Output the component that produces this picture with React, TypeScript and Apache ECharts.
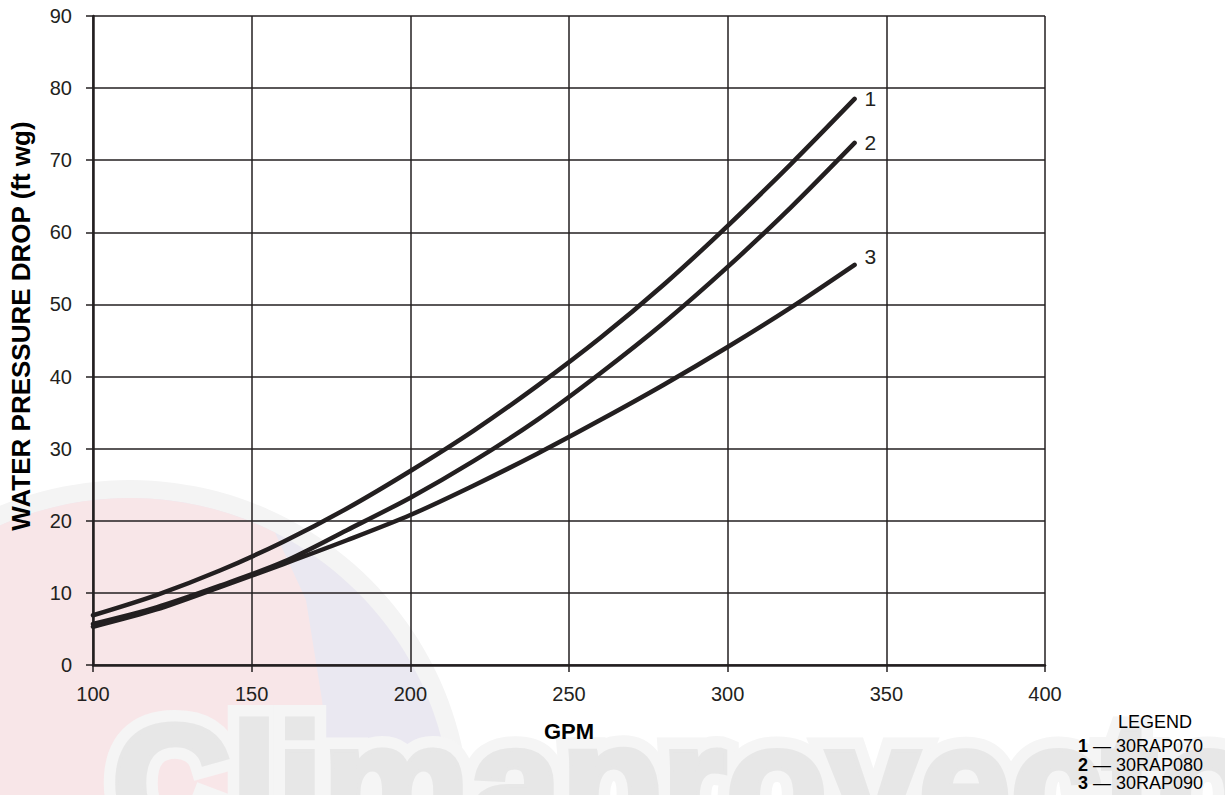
import React, { useEffect, useRef } from "react";
import * as echarts from "echarts";

const gpm = [100, 120, 140, 160, 180, 200, 220, 240, 260, 280, 300, 320, 340];
const rap070 = [6.9, 9.7, 13.1, 17.1, 21.7, 26.9, 32.5, 38.7, 45.4, 52.8, 60.9, 69.5, 78.5];
const rap080 = [5.7, 8.0, 11.0, 14.3, 18.7, 23.2, 28.3, 34.0, 40.5, 47.5, 55.2, 63.5, 72.4];
const rap090 = [5.3, 7.7, 10.8, 14.0, 17.3, 20.8, 24.9, 29.3, 34.0, 38.9, 44.1, 49.6, 55.5];
const curveNumbers = ["1", "2", "3"];
const models = ["30RAP070", "30RAP080", "30RAP090"];
const yTitle = "WATER PRESSURE DROP (ft wg)";
const xTitle = "GPM";

const INK = "#231f20";
const FONT = "Liberation Sans, Arial, sans-serif";

function pinkShape(): number[][] {
  // decorative watermark outline (not data)
  const cx = 130, cy = 820, r = 322;
  const pts: number[][] = [];
  const a0 = Math.PI; // left
  const a1 = 2 * Math.PI - Math.acos(145 / r); // right-top point where x ≈ 275
  for (let k = 0; k <= 40; k++) {
    const a = a0 + ((a1 - a0) * k) / 40;
    pts.push([cx + r * Math.cos(a), cy + r * Math.sin(a)]);
  }
  pts.push([306, 600], [322, 700], [332, 800], [-200, 800]);
  return pts;
}

export default function App() {
  const ref = useRef<HTMLDivElement>(null);
  useEffect(() => {
    if (!ref.current) return;
    const chart = echarts.init(ref.current, undefined, { renderer: "svg" });
    const mk = (vals: number[]) => gpm.map((g, i) => [g, vals[i]]);
    const seriesVals = [rap070, rap080, rap090];
    const labelOffsets = [[2, 0], [2, 0], [2, -8]];
    const series = seriesVals.map((vals, i) => ({
      type: "line",
      name: models[i],
      data: mk(vals),
      smooth: 0.3,
      showSymbol: false,
      symbol: "none",
      z: 5,
      lineStyle: { color: INK, width: 4.5, cap: "round" },
      endLabel: {
        show: true,
        formatter: curveNumbers[i],
        color: INK,
        fontSize: 21,
        fontFamily: FONT,
        offset: labelOffsets[i],
      },
    }));

    const graphics: any[] = [
      // faint watermark
      { type: "circle", z: -20, shape: { cx: 130, cy: 820, r: 340 }, style: { fill: "#f4f4f4" }, silent: true },
      { type: "circle", z: -19, shape: { cx: 130, cy: 820, r: 322 }, style: { fill: "#eae8f1" }, silent: true },
      { type: "polygon", z: -18, shape: { points: pinkShape() }, style: { fill: "#f8e6e8" }, silent: true },
      {
        type: "text", z: -17, x: 112, y: 700, silent: true,
        style: { text: "Climaproyectos", fontSize: 165, fontWeight: "bold", fontFamily: FONT, fill: "#f5f5f5", stroke: "#f5f5f5", lineWidth: 30, verticalAlign: "top" },
      },
      {
        type: "text", z: -16, x: 112, y: 700, silent: true,
        style: { text: "Climaproyectos", fontSize: 165, fontWeight: "bold", fontFamily: FONT, fill: "#e7e7e7", stroke: "#e7e7e7", lineWidth: 7, verticalAlign: "top" },
      },
      {
        type: "text", x: 21, y: 326, rotation: Math.PI / 2,
        style: { text: yTitle, fontSize: 26, fontWeight: "bold", fontFamily: FONT, fill: "#000", align: "center", verticalAlign: "middle" },
      },
      {
        type: "text", x: 1118, y: 722,
        style: { text: "LEGEND", fontSize: 18, fontFamily: FONT, fill: "#000", align: "left", verticalAlign: "middle" },
      },
    ];
    models.forEach((m, i) => {
      graphics.push({
        type: "text", x: 1078, y: 746 + i * 18.5,
        style: {
          text: `{b|${curveNumbers[i]}} — ${m}`,
          fontSize: 18, fontFamily: FONT, fill: "#000", align: "left", verticalAlign: "middle",
          rich: { b: { fontSize: 18, fontWeight: "bold", fontFamily: FONT, fill: "#000" } },
        },
      });
    });

    chart.setOption({
      animation: false,
      backgroundColor: "#ffffff",
      grid: { left: 93, right: 180, top: 16, bottom: 130, containLabel: false },
      xAxis: {
        type: "value", min: 100, max: 400, interval: 50,
        name: xTitle, nameLocation: "middle", nameGap: 55,
        nameTextStyle: { fontSize: 22, fontWeight: "bold", fontFamily: FONT, color: "#000" },
        axisLine: { show: true, onZero: false, lineStyle: { color: INK, width: 2.5 } },
        axisTick: { show: true, length: 7, lineStyle: { color: INK, width: 1.5 } },
        axisLabel: { fontSize: 20, color: INK, fontFamily: FONT, margin: 19 },
        splitLine: { show: true, lineStyle: { color: INK, width: 1.5 } },
      },
      yAxis: {
        type: "value", min: 0, max: 90, interval: 10,
        axisLine: { show: true, onZero: false, lineStyle: { color: INK, width: 2.5 } },
        axisTick: { show: true, length: 7, lineStyle: { color: INK, width: 1.5 } },
        axisLabel: { fontSize: 20, color: INK, fontFamily: FONT, margin: 21 },
        splitLine: { show: true, lineStyle: { color: INK, width: 1.5 } },
      },
      graphic: graphics,
      series,
    });
    return () => chart.dispose();
  }, []);
  return (
    <div
      ref={ref}
      style={{ position: "fixed", left: 0, top: 0, width: 1225, height: 795 }}
    />
  );
}
